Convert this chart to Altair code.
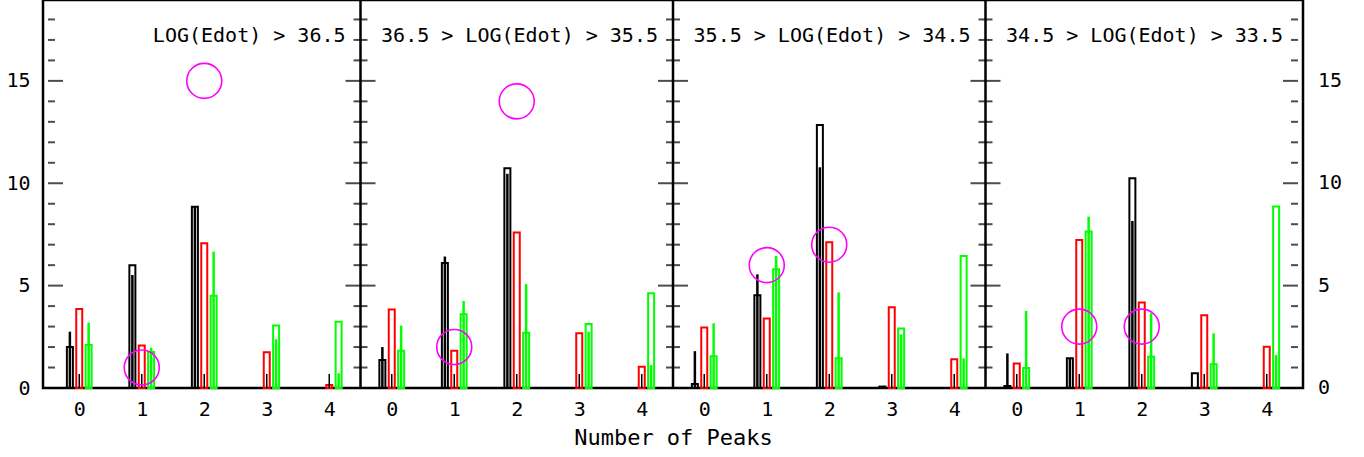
import json
import altair as alt
import pandas as pd

# ---------------- data ----------------
panel_labels = [
    "LOG(Edot) > 36.5",
    "36.5 > LOG(Edot) > 35.5",
    "35.5 > LOG(Edot) > 34.5",
    "34.5 > LOG(Edot) > 33.5",
]
peaks = [0, 1, 2, 3, 4]
x_tick_labels = ["0", "1", "2", "3", "4"]
y_tick_labels = [0, 5, 10, 15]
y_major = [5, 10, 15]
y_minor = [1, 2, 3, 4, 6, 7, 8, 9, 11, 12, 13, 14, 16, 17, 18]

# per panel, values for 0..4 peaks
black_bar = [
    [2.0, 6.0, 8.85, 0, 0],
    [1.37, 6.1, 10.73, 0, 0],
    [0.2, 4.53, 12.85, 0.07, 0],
    [0.1, 1.45, 10.24, 0.72, 0],
]
black_line = [
    [2.75, 5.52, 8.85, 0, 0],
    [2.0, 6.42, 10.46, 0, 0],
    [1.8, 5.55, 10.78, 0, 0],
    [1.69, 1.45, 8.16, 0, 0],
]
red_bar = [
    [3.86, 2.07, 7.07, 1.74, 0.15],
    [3.84, 1.82, 7.59, 2.67, 1.04],
    [2.95, 3.4, 7.12, 3.94, 1.4],
    [1.2, 7.23, 4.17, 3.55, 2.02],
]
mid_line = [
    [0.68, 0.68, 0.68, 0.68, 0.68],
    [0.68, 0.68, 0.68, 0.68, 0.68],
    [0.68, 0.68, 0.68, 0.68, 0.68],
    [0.68, 0.68, 0.68, 0.68, 0.68],
]
green_bar = [
    [2.1, 1.76, 4.5, 3.05, 3.24],
    [1.82, 3.6, 2.7, 3.13, 4.63],
    [1.55, 5.8, 1.45, 2.9, 6.45],
    [0.98, 7.64, 1.53, 1.16, 8.86],
]
green_line = [
    [3.19, 1.97, 6.66, 2.38, 0.72],
    [3.05, 4.25, 5.07, 2.75, 1.12],
    [3.16, 6.45, 4.67, 2.62, 1.45],
    [3.76, 8.37, 3.65, 2.67, 1.61],
]
circle_peaks = [[2, 1], [2, 1], [1, 2], [1, 2]]
circle_values = [[15, 1], [14, 2], [6, 7], [3, 3]]

# ---------------- layout constants ----------------
W, H = 1260, 388
FONT = "DejaVu Sans Mono"
MAGENTA, RED, GREEN = "#ff00ff", "#ff0000", "#00ff00"


def series_df(table):
    rows = []
    for p, vals in enumerate(table):
        for n, v in zip(peaks, vals):
            rows.append({"panel": p, "peaks": n, "value": v})
    return pd.DataFrame(rows)


x_axis = alt.Axis(
    values=list(range(20)),
    labelExpr=f"{json.dumps(x_tick_labels)}[datum.value % 5]",
    ticks=False, tickSize=0, domain=False, grid=False,
    labelPadding=11, labelFlush=False, labelOverlap=False,
    title="Number of Peaks", titlePadding=8,
)
y_axis = alt.Axis(
    values=y_tick_labels, ticks=False, tickSize=0, domain=False, grid=False,
    labelPadding=13, title=None,
)
x_scale = alt.Scale(domain=[-0.5, 19.5], nice=False, zero=False)
y_scale = alt.Scale(domain=[0, 18.95], nice=False, zero=False)


def X(field):
    return alt.X(field, type="quantitative", scale=x_scale, axis=x_axis)


def Y(field):
    return alt.Y(field, type="quantitative", scale=y_scale, axis=y_axis, stack=None)


def bars(table, offset, **mark):
    return (
        alt.Chart(series_df(table))
        .transform_filter("datum.value > 0")
        .transform_calculate(xpos=f"datum.panel * 5 + datum.peaks + ({offset})")
        .mark_bar(orient="vertical", **mark)
        .encode(x=X("xpos"), y=Y("value"))
    )


def outline(table, offset, color):
    return bars(table, offset, size=6, fill=color, fillOpacity=0,
                stroke=color, strokeWidth=2)


def solid(table, offset, color, size):
    return bars(table, offset, size=size, color=color)


layers = [
    outline(black_bar, -0.15, "black"),
    solid(black_line, -0.15, "black", 2.5),
    outline(red_bar, 0, RED),
    solid(mid_line, 0, "black", 1.5),
    outline(green_bar, 0.15, GREEN),
    solid(green_line, 0.15, GREEN, 2.5),
]

# panel dividers
edges_inner = pd.DataFrame({"edge": [4.5, 9.5, 14.5]})
layers.append(
    alt.Chart(edges_inner).mark_rule(color="black", strokeWidth=2.5).encode(x=X("edge"))
)


# frame ticks
def tick_layer(edges, yvals, size, xoff):
    rows = [{"edge": e, "yv": y} for e in edges for y in yvals]
    return (
        alt.Chart(pd.DataFrame(rows))
        .mark_tick(orient="horizontal", color="black", thickness=2, size=size, xOffset=xoff)
        .encode(x=X("edge"), y=Y("yv"))
    )


layers += [
    tick_layer([4.5, 9.5, 14.5], y_major, 30, 0),
    tick_layer([4.5, 9.5, 14.5], y_minor, 14, 0),
    tick_layer([-0.5], y_major, 15, 7.5),
    tick_layer([-0.5], y_minor, 7, 3.5),
    tick_layer([19.5], y_major, 15, -7.5),
    tick_layer([19.5], y_minor, 7, -3.5),
]

# right-hand y labels
layers.append(
    alt.Chart(pd.DataFrame({"yv": y_tick_labels}))
    .mark_text(font=FONT, fontSize=20, align="left", baseline="middle", color="black")
    .encode(x=alt.value(W + 15), y=Y("yv"), text=alt.Text("yv:Q"))
)

# panel labels
layers.append(
    alt.Chart(pd.DataFrame({"panel": list(range(4)), "label": panel_labels}))
    .transform_calculate(xpos="datum.panel * 5 + 4.5")
    .mark_text(font=FONT, fontSize=20, align="right", baseline="alphabetic",
               dx=-15, color="black")
    .encode(x=X("xpos"), y=alt.value(42), text="label:N")
)

# magenta circles
crow = []
for p in range(4):
    for n, v in zip(circle_peaks[p], circle_values[p]):
        crow.append({"panel": p, "peaks": n, "value": v})
layers.append(
    alt.Chart(pd.DataFrame(crow))
    .transform_calculate(xpos="datum.panel * 5 + datum.peaks")
    .mark_point(shape="circle", filled=False, size=1225, stroke=MAGENTA,
                strokeWidth=1.6, opacity=1)
    .encode(x=X("xpos"), y=Y("value"))
)

chart = (
    alt.layer(*layers)
    .properties(
        width=W, height=H,
        autosize=alt.AutoSizeParams(type="none"),
        padding={"left": 43, "top": 0, "right": 61, "bottom": 69},
        background="white",
    )
    .configure_view(stroke="black", strokeWidth=2.5)
    .configure_axis(
        labelFont=FONT, labelFontSize=20, labelColor="black",
        titleFont=FONT, titleFontSize=22, titleFontWeight="normal", titleColor="black",
    )
)

chart.save("out.html", embed_options={"renderer": "svg", "actions": False})
